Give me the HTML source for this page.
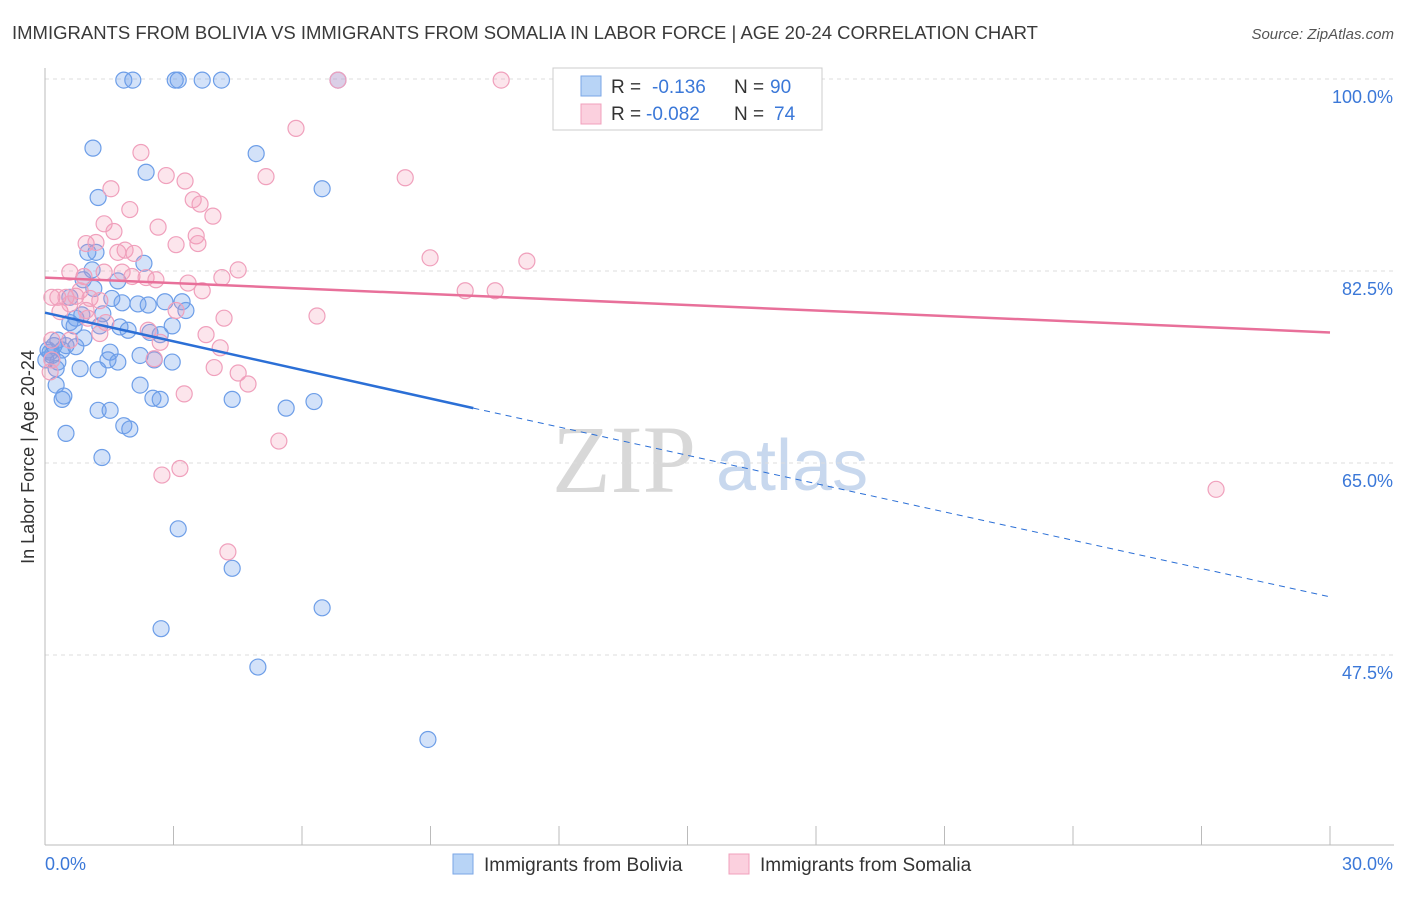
<!DOCTYPE html>
<html><head><meta charset="utf-8"><style>
body{margin:0;background:#fff;width:1406px;height:892px;overflow:hidden;font-family:"Liberation Sans",sans-serif}
</style></head><body>
<svg id="chart" width="1406" height="892" xmlns="http://www.w3.org/2000/svg" font-family="Liberation Sans, sans-serif">
<text x="12" y="39" font-size="18.5" fill="#3a3a3a">IMMIGRANTS FROM BOLIVIA VS IMMIGRANTS FROM SOMALIA IN LABOR FORCE | AGE 20-24 CORRELATION CHART</text>
<text x="1394" y="39" font-size="15" fill="#555" text-anchor="end" font-style="italic">Source: ZipAtlas.com</text>
<g>
<text x="552" y="492" font-size="96" font-family="Liberation Serif, serif" fill="#d8d8d8">ZIP</text>
<text x="716" y="490" font-size="72" fill="#c8d8ee">atlas</text>
</g>
<g id="grid"></g>
<g id="axes"></g>
<g id="pts"></g>
<g id="lines"></g>
<g>
<rect x="553" y="68" width="269" height="62" fill="#fff" stroke="#ccc"/>
<rect x="581" y="76" width="20" height="20" fill="#b8d4f6" stroke="#7aa6e6"/>
<text x="611" y="93" font-size="19" fill="#333">R = </text><text x="652" y="93" font-size="19" fill="#3b78d8">-0.136</text>
<text x="734" y="93" font-size="19" fill="#333">N = </text><text x="770" y="93" font-size="19" fill="#3b78d8">90</text>
<rect x="581" y="104" width="20" height="20" fill="#fbd0de" stroke="#f0a0bc"/>
<text x="611" y="120" font-size="19" fill="#333">R = </text><text x="646" y="120" font-size="19" fill="#3b78d8">-0.082</text>
<text x="734" y="120" font-size="19" fill="#333">N = </text><text x="774" y="120" font-size="19" fill="#3b78d8">74</text>
</g>
<g>
<rect x="453" y="854" width="20" height="20" fill="#b8d4f6" stroke="#7aa6e6"/>
<text x="484" y="871" font-size="19" fill="#333">Immigrants from Bolivia</text>
<rect x="729" y="854" width="20" height="20" fill="#fbd0de" stroke="#f0a0bc"/>
<text x="760" y="871" font-size="19" fill="#333">Immigrants from Somalia</text>
</g>
<text transform="translate(34,457) rotate(-90)" text-anchor="middle" font-size="18" fill="#333">In Labor Force | Age 20-24</text>
<text x="45" y="870" font-size="18" fill="#3b78d8">0.0%</text>
<text x="1393" y="870" font-size="18" fill="#3b78d8" text-anchor="end">30.0%</text>
</svg>
<script>
const yTicks=[100,82.5,65,47.5];
const yTickLabels=["100.0%","82.5%","65.0%","47.5%"];
const blueX=[1.84,2.05,3.04,3.11,3.67,4.12,6.84,1.12,4.93,2.36,6.47,1.24,1.00,1.19,1.10,2.31,1.70,1.14,0.89,0.58,1.56,1.80,2.17,2.80,2.41,3.20,3.29,1.35,0.86,0.72,0.58,0.68,1.28,1.75,1.94,2.45,2.69,2.97,0.91,0.30,0.49,0.07,0.40,0.72,0.16,1.52,1.47,2.22,0.30,1.24,1.70,2.55,2.97,0.26,0.82,2.22,0.26,0.44,0.40,2.52,2.69,4.37,5.63,6.28,1.24,1.52,1.84,1.98,0.49,1.33,3.11,4.37,6.47,2.71,4.97,8.94,0.12,0.21,0.02];
const blueY=[99.9,99.9,99.9,99.9,99.9,99.9,99.9,93.7,93.2,91.5,90.0,89.2,84.2,84.2,82.6,83.2,81.6,80.9,81.7,80.1,80.0,79.6,79.5,79.7,79.4,79.7,78.9,78.6,78.5,78.2,77.8,77.5,77.5,77.4,77.1,76.9,76.7,77.5,76.4,76.2,75.7,75.3,75.3,75.6,74.8,75.1,74.4,74.8,74.2,73.5,74.2,74.4,74.2,73.6,73.6,72.1,72.1,71.1,70.8,70.9,70.8,70.8,70.0,70.6,69.8,69.8,68.4,68.1,67.7,65.5,59.0,55.4,51.8,49.9,46.4,39.8,75.1,75.7,74.4];
const pinkX=[6.84,10.65,5.86,2.24,5.16,8.41,2.83,3.27,1.54,3.46,3.62,3.92,1.98,1.38,2.64,1.61,3.53,0.96,1.19,3.06,3.57,1.87,2.08,1.70,8.99,11.25,4.51,0.58,0.91,1.38,1.80,2.03,2.36,2.59,3.34,4.13,3.67,9.81,10.51,0.16,0.30,0.49,0.72,0.82,1.05,1.28,0.35,1.00,1.42,3.06,4.18,6.35,2.41,3.76,1.28,0.16,0.58,2.69,4.09,2.55,3.95,4.51,0.12,4.74,3.25,5.46,3.15,2.73,4.27,27.34,0.16,0.58,0.96];
const pinkY=[99.9,99.9,95.5,93.3,91.1,91.0,91.2,90.7,90.0,89.0,88.6,87.5,88.1,86.8,86.5,86.1,85.7,85.0,85.1,84.9,85.0,84.4,84.1,84.2,83.7,83.4,82.6,82.4,82.0,82.4,82.4,82.0,81.9,81.7,81.4,81.9,80.7,80.7,80.7,80.1,80.1,80.1,80.2,80.7,80.0,79.8,78.8,78.2,77.8,78.9,78.2,78.4,77.1,76.7,76.8,76.2,76.2,76.0,75.5,74.5,73.7,73.2,73.3,72.2,71.3,67.0,64.5,63.9,56.9,62.6,74.4,79.5,78.9];
const blueTrend=[78.7,70.0,52.8]; // at x=0,10,30
const pinkTrend=[81.9,76.9]; // at x=0,30
const NS="http://www.w3.org/2000/svg";
const X=v=>45+v/30*1285;
const Y=v=>79+(100-v)*(192/17.5);
function mk(t,a,p){const e=document.createElementNS(NS,t);for(const k in a)e.setAttribute(k,a[k]);p.appendChild(e);return e;}
const grid=document.getElementById('grid'),axes=document.getElementById('axes'),pts=document.getElementById('pts'),lines=document.getElementById('lines');
yTicks.forEach((t,i)=>{
 const l=mk('line',{x1:45,x2:1394,y1:Y(t),y2:Y(t),stroke:'#ddd','stroke-dasharray':'4,4'},grid);
 
 
 const tx=mk('text',{x:1393,y:Y(t)+24,'font-size':18,fill:'#3b78d8','text-anchor':'end'},axes);
 tx.textContent=yTickLabels[i];
 
 
});
let a=mk('line',{x1:45,x2:45,y1:68,y2:845,stroke:'#bbb'},axes);


a=mk('line',{x1:45,x2:1394,y1:845,y2:845,stroke:'#bbb'},axes);


for(let i=0;i<=10;i++){const t=mk('line',{x1:X(i*3),x2:X(i*3),y1:826,y2:845,stroke:'#bbb'},axes);
 
 }
function dots(xs,ys,fill,stroke,name){xs.forEach((x,i)=>{const c=mk('circle',{cx:X(x),cy:Y(ys[i]),r:8,fill:fill,stroke:stroke,'stroke-width':1.2},pts);
 
 });}
dots(blueX,blueY,'rgba(110,160,235,0.3)','#6d9ee8','bolivia-point');
dots(pinkX,pinkY,'rgba(245,150,180,0.25)','#f0a0bc','somalia-point');
let L=mk('line',{x1:X(0),y1:Y(blueTrend[0]),x2:X(10),y2:Y(blueTrend[1]),stroke:'#2b6fd6','stroke-width':2.5},lines);


L=mk('line',{x1:X(10),y1:Y(blueTrend[1]),x2:X(30),y2:Y(blueTrend[2]),stroke:'#2b6fd6','stroke-width':1,'stroke-dasharray':'6,5'},lines);


L=mk('line',{x1:X(0),y1:Y(pinkTrend[0]),x2:X(30),y2:Y(pinkTrend[1]),stroke:'#e8709a','stroke-width':2.5},lines);


</script>
</body></html>
